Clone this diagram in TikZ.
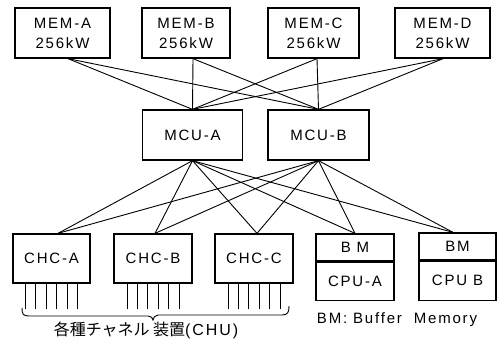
\documentclass[tikz,border=0pt]{standalone}
\usepackage{fontspec}
\setmainfont{Liberation Sans}[LetterSpace=12]
\newfontfamily\jp{Noto Sans CJK JP}
\begin{document}
\begin{tikzpicture}[x=1pt,y=-1pt,
  box/.style={draw, line width=1.3pt, inner sep=0pt, font=\fontsize{15}{20}\selectfont, align=center},
  link/.style={line width=0.9pt},
  lbl/.style={inner sep=0pt, font=\fontsize{15}{18}\selectfont}]
\useasboundingbox (0,0) rectangle (502,343);
% memories
\node[box, minimum width=95pt, minimum height=50pt] (mA) at (62.5,33) {MEM-A\\256kW};
\node[box, minimum width=88pt, minimum height=50pt] (mB) at (186,33) {MEM-B\\256kW};
\node[box, minimum width=91pt, minimum height=50pt] (mC) at (313.5,33) {MEM-C\\256kW};
\node[box, minimum width=95pt, minimum height=50pt] (mD) at (442.5,33) {MEM-D\\256kW};
% MCUs
\node[box, minimum width=100pt, minimum height=50pt] (cA) at (192.5,135) {MCU-A};
\node[box, minimum width=101pt, minimum height=50pt] (cB) at (318.5,135) {MCU-B};
% channel controllers
\node[box, minimum width=77pt, minimum height=49pt] (hA) at (51.5,258.5) {CHC-A};
\node[box, minimum width=78pt, minimum height=49pt] (hB) at (153,258.5) {CHC-B};
\node[box, minimum width=78pt, minimum height=49pt] (hC) at (254,258.5) {CHC-C};
% CPUs
\node[box, minimum width=78pt, minimum height=27pt] (bA) at (355,247.5) {B M};
\node[box, minimum width=78pt, minimum height=38pt, anchor=north] (pA) at (bA.south) {CPU-A};
\node[box, minimum width=77pt, minimum height=27pt] (bB) at (457.5,246.5) {BM};
\node[box, minimum width=77pt, minimum height=39pt, anchor=north] (pB) at (bB.south) {CPU B};
% MEM -> MCU
\foreach \m/\s in {mA/5.5, mB/7, mC/3.5, mD/0.5}{
  \draw[link] ([xshift=\s pt]\m.south) -- (cA.north);
  \draw[link] ([xshift=\s pt]\m.south) -- (cB.north);
}
% MCU -> units
\foreach \u/\s in {hA/6.5, hB/2, hC/3, bA/0, bB/-4.5}{
  \draw[link] (cA.south) -- ([xshift=\s pt]\u.north);
  \draw[link] (cB.south) -- ([xshift=\s pt]\u.north);
}
% channel legs
\foreach \n in {hA,hB,hC}{
  \foreach \d in {-26,-15.6,-5.2,5.2,15.6,26}{
    \draw[link] ([xshift=\d pt]\n.south) -- ++(0,25);
  }
}
% brace
\coordinate (bl) at (22,308);
\coordinate (tip) at (153,320);
\coordinate (br) at (289,306);
\draw[link] (bl) .. controls ++(0,6) and ++(-6,0) .. ++(7,8) -- ([xshift=-5pt,yshift=4pt]tip)
  .. controls ++(3,0) and ++(0,-2) .. (tip)
  .. controls ++(0,-2) and ++(-3,0) .. ([xshift=5pt,yshift=5pt]tip)
  -- ([xshift=-7pt,yshift=-9pt]br) .. controls ++(6,0) and ++(0,6) .. (br);
\node[lbl, font=\fontsize{16}{18}\selectfont] (jt) at (146,330) {{\jp 各種チャネル 装置}(CHU)};
\node[lbl] (bmt) at (397,320) {BM: Buffer \ Memory};
\end{tikzpicture}
\end{document}
